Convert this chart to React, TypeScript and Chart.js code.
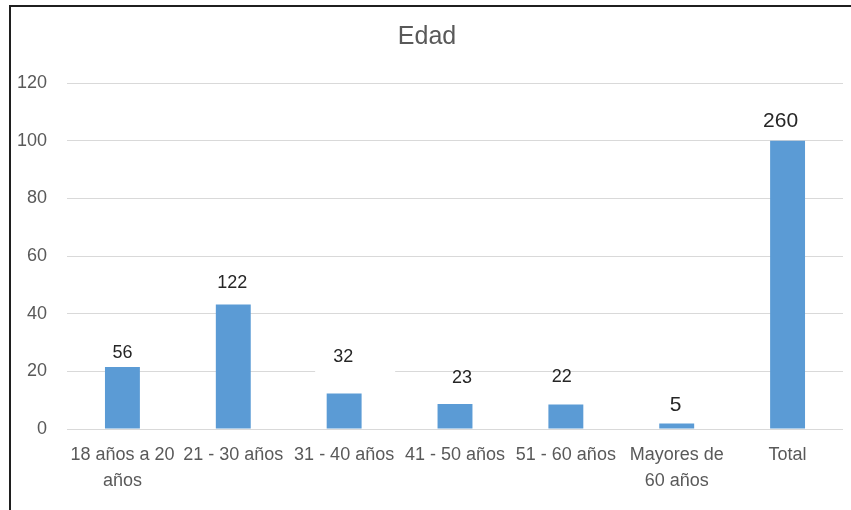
import React, { useEffect, useRef } from "react";
import { Chart, registerables } from "chart.js";

Chart.register(...registerables);

const categories: (string | string[])[] = [
  ["18 años a 20", "años"],
  "21 - 30 años",
  "31 - 40 años",
  "41 - 50 años",
  "51 - 60 años",
  ["Mayores de", "60 años"],
  "Total",
];
const barValues = [21.5, 43.2, 12.3, 8.7, 8.5, 1.9, 100];
const labelTexts = ["56", "122", "32", "23", "22", "5", "260"];
const yTicks = [0, 20, 40, 60, 80, 100, 120];

const TICK_COLOR = "#595959";
const BAR_COLOR = "#5B9BD5";
const FONT = "'Liberation Sans', Arial, sans-serif";

// label placement tweaks (style only, not data)
const labelStyle = [
  { dx: 0, dy: 14, size: 18, box: false },
  { dx: -1, dy: 21, size: 18, box: false },
  { dx: -1, dy: 37, size: 18, box: true },
  { dx: 7, dy: 26, size: 18, box: false },
  { dx: -4, dy: 27, size: 18, box: false },
  { dx: -1, dy: 18, size: 21, box: false },
  { dx: -7, dy: 19, size: 21, box: false },
];

const dataLabelPlugin = {
  id: "customDataLabels",
  afterDatasetsDraw(chart: any) {
    const ctx = chart.ctx;
    const meta = chart.getDatasetMeta(0);
    ctx.save();
    meta.data.forEach((bar: any, i: number) => {
      const st = labelStyle[i];
      const x = bar.x + st.dx;
      const y = bar.y - st.dy;
      if (st.box) {
        ctx.fillStyle = "#ffffff";
        ctx.fillRect(x - 28, y - 16, 80, 34);
      }
      ctx.fillStyle = "#262626";
      ctx.font = `${st.size}px ${FONT}`;
      ctx.textAlign = "center";
      ctx.textBaseline = "middle";
      ctx.fillText(labelTexts[i], x, y);
    });
    ctx.restore();
  },
};

export default function App() {
  const canvasRef = useRef<HTMLCanvasElement | null>(null);

  useEffect(() => {
    document.body.style.margin = "0";
    const canvas = canvasRef.current;
    if (!canvas) return;
    const chart = new Chart(canvas, {
      type: "bar",
      data: {
        labels: categories,
        datasets: [
          {
            data: barValues,
            backgroundColor: BAR_COLOR,
            borderWidth: 0,
            barPercentage: 0.315,
            categoryPercentage: 1,
          },
        ],
      },
      options: {
        animation: false,
        responsive: false,
        maintainAspectRatio: false,
        devicePixelRatio: 1,
        layout: { padding: { left: 0, right: 8, top: 0, bottom: 0 } },
        plugins: {
          legend: { display: false },
          tooltip: { enabled: false },
          title: {
            display: true,
            text: "Edad",
            color: TICK_COLOR,
            font: { family: "'Liberation Sans Narrow', 'Liberation Sans', sans-serif", size: 25, weight: "normal" },
            padding: { top: 15, bottom: 31 },
          },
        },
        scales: {
          x: {
            grid: { display: false, drawTicks: false },
            border: { display: false },
            ticks: {
              color: TICK_COLOR,
              font: { family: FONT, size: 18, lineHeight: 1.45 },
              padding: 13,
              maxRotation: 0,
              minRotation: 0,
              autoSkip: false,
            },
            afterFit(scale: any) {
              scale.height = 81;
            },
          },
          y: {
            min: 0,
            max: 120,
            afterBuildTicks(scale: any) {
              scale.ticks = yTicks.map((v) => ({ value: v }));
            },
            grid: { color: "#d9d9d9", lineWidth: 1, drawTicks: false },
            border: { display: false },
            ticks: {
              color: TICK_COLOR,
              font: { family: FONT, size: 18 },
              padding: 20,
            },
            afterFit(scale: any) {
              scale.width = 56;
            },
          },
        },
      },
      plugins: [dataLabelPlugin],
    });
    return () => chart.destroy();
  }, []);

  return (
    <div style={{ position: "absolute", left: 0, top: 0, width: 851, height: 510, background: "#ffffff", overflow: "hidden" }}>
      <div
        style={{
          position: "absolute",
          left: 9,
          top: 5,
          width: 842,
          height: 505,
          borderLeft: "2px solid #1f1f1f",
          borderTop: "2px solid #1f1f1f",
          boxSizing: "border-box",
        }}
      />
      <canvas
        ref={canvasRef}
        width={840}
        height={503}
        style={{ position: "absolute", left: 11, top: 7, width: 840, height: 503 }}
      />
    </div>
  );
}
